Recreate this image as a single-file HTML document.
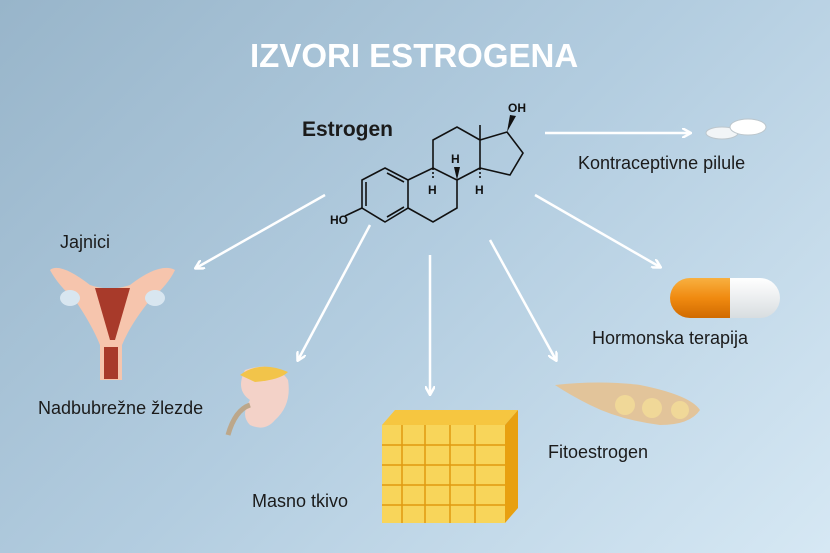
<!DOCTYPE html>
<html><head><meta charset="utf-8"><style>
body{margin:0}
#c{width:830px;height:553px;position:relative;overflow:hidden;background:linear-gradient(135deg,#98b5ca 0%,#b3cde0 50%,#d6e8f4 100%);font-family:"Liberation Sans",sans-serif}
.t{position:absolute;color:#1b1b1b;font-size:18px;white-space:nowrap}
</style></head><body><div id="c">
<div class="t" style="left:250px;top:37px;font-size:33px;font-weight:bold;color:#fff">IZVORI ESTROGENA</div>
<div class="t" style="left:302px;top:118px;font-size:21px;font-weight:bold">Estrogen</div>
<div class="t" style="left:578px;top:153px">Kontraceptivne pilule</div>
<div class="t" style="left:60px;top:232px">Jajnici</div>
<div class="t" style="left:592px;top:328px">Hormonska terapija</div>
<div class="t" style="left:38px;top:398px">Nadbubrežne žlezde</div>
<div class="t" style="left:548px;top:442px">Fitoestrogen</div>
<div class="t" style="left:252px;top:491px">Masno tkivo</div>
<svg width="830" height="553" style="position:absolute;left:0;top:0">
<defs><marker id="a" markerWidth="10" markerHeight="10" refX="8" refY="5" orient="auto" markerUnits="userSpaceOnUse"><path d="M0,0 L9,5 L0,10" fill="none" stroke="#fff" stroke-width="2.5"/></marker>
<linearGradient id="cap" x1="0" y1="0" x2="0" y2="1"><stop offset="0" stop-color="#f8b040"/><stop offset="0.5" stop-color="#f08a10"/><stop offset="1" stop-color="#d06a00"/></linearGradient>
<linearGradient id="capw" x1="0" y1="0" x2="0" y2="1"><stop offset="0" stop-color="#fff"/><stop offset="1" stop-color="#d8dde0"/></linearGradient></defs>
<g stroke="#fff" stroke-width="2.5" fill="none" marker-end="url(#a)">
<line x1="325" y1="195" x2="196" y2="268"/>
<line x1="370" y1="225" x2="298" y2="360"/>
<line x1="430" y1="255" x2="430" y2="394"/>
<line x1="490" y1="240" x2="556" y2="360"/>
<line x1="535" y1="195" x2="660" y2="267"/>
<line x1="545" y1="133" x2="690" y2="133"/>
</g>
<g stroke="#111" stroke-width="1.6" fill="none">
<path d="M385,168 L408,180 L408,208 L385,222 L362,208 L362,180 Z"/>
<path d="M408,180 L433,168 L457,180 L457,208 L433,222 L408,208"/>
<path d="M433,168 L433,140 L457,127 L480,140 L480,168 L457,180"/>
<path d="M480,140 L507,132 L523,153 L510,175 L480,168"/>
<path d="M387,173 L404,182 M366,182 L366,206 M387,217 L404,207"/>
<path d="M480,140 L480,125 M362,208 L345,216"/>
<path d="M433,168 L433,180 M480,168 L480,180" stroke-dasharray="2,2"/>
</g>
<path d="M507,132 L510,115 L516,116 Z" fill="#111"/>
<path d="M457,180 L454,167 L460,167 Z" fill="#111"/>
<g font-family="Liberation Sans" font-size="12" fill="#111" font-weight="bold">
<text x="508" y="112">OH</text><text x="330" y="224">HO</text>
<text x="451" y="163">H</text><text x="428" y="194">H</text><text x="475" y="194">H</text>
</g>
<g>
<path d="M50,270 Q60,262 90,285 Q110,292 130,285 Q160,262 175,270 Q168,285 150,300 Q130,325 122,345 L100,345 Q92,325 75,300 Q58,285 50,270 Z" fill="#f6c5ad"/>
<path d="M95,288 L130,288 L115,340 L110,340 Z" fill="#a83a2a"/>
<ellipse cx="70" cy="298" rx="10" ry="8" fill="#d8e6f0"/><ellipse cx="155" cy="298" rx="10" ry="8" fill="#d8e6f0"/>
<rect x="100" y="345" width="22" height="35" fill="#f6c5ad"/><rect x="104" y="347" width="14" height="32" fill="#a83a2a"/>
</g>
<path d="M245,370 Q275,360 288,380 Q292,405 275,420 Q265,432 250,425 Q240,415 250,400 Q235,390 245,370 Z" fill="#f3d2c8"/>
<path d="M240,375 Q260,360 288,372 Q280,380 255,382 Z" fill="#f2c44a"/>
<path d="M250,405 Q235,410 228,435" stroke="#bca78a" stroke-width="5" fill="none"/>
<path d="M382,425 L395,410 L518,410 L505,425 Z" fill="#f6c640"/>
<path d="M505,425 L518,410 L518,508 L505,523 Z" fill="#e8a010"/>
<rect x="382" y="425" width="123" height="98" fill="#f8d55a"/>
<g stroke="#e09a10" stroke-width="1.5" fill="none">
<path d="M382,445 H505 M382,465 H505 M382,485 H505 M382,505 H505 M402,425 V523 M425,425 V523 M450,425 V523 M475,425 V523"/>
</g>
<ellipse cx="722" cy="133" rx="16" ry="6" fill="#f2f5f7" stroke="#bcc6cc"/>
<ellipse cx="748" cy="127" rx="18" ry="8" fill="#fff" stroke="#bcc6cc"/>
<path d="M690,278 H730 V318 H690 A20,20 0 0 1 690,278 Z" fill="url(#cap)"/>
<path d="M730,278 H760 A20,20 0 0 1 760,318 H730 Z" fill="url(#capw)"/>
<path d="M555,385 Q600,380 640,385 Q690,395 700,410 Q690,425 660,425 Q620,420 590,405 Q570,395 555,385 Z" fill="#e2c49a"/>
<circle cx="625" cy="405" r="10" fill="#f0d898"/><circle cx="652" cy="408" r="10" fill="#f0d898"/><circle cx="680" cy="410" r="9" fill="#f0d898"/>
</svg>
</div></body></html>
